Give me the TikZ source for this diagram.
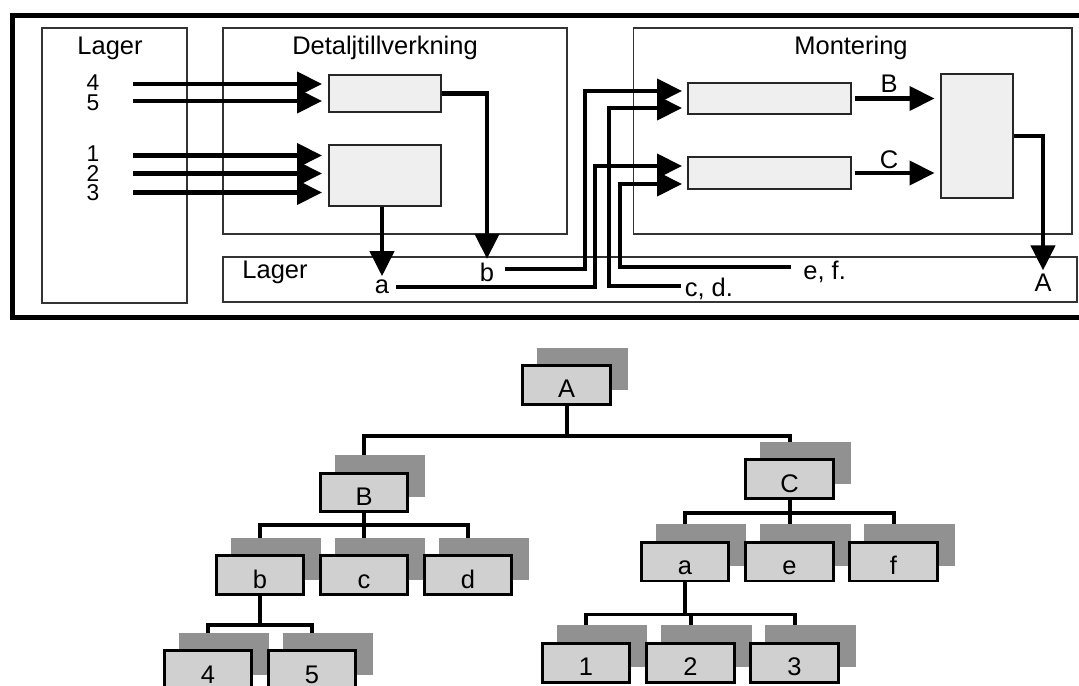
\documentclass[tikz,border=0pt]{standalone}
\usepackage{fontspec}
\setmainfont{Liberation Sans}
\usetikzlibrary{arrows.meta,positioning,calc,fit,shadows}
\definecolor{boxfill}{RGB}{239,239,239}
\definecolor{partfill}{RGB}{208,208,208}
\definecolor{partshade}{RGB}{145,145,145}
\tikzset{
  area/.style={draw=black!80, line width=0.03cm, inner sep=0pt},
  stn/.style={draw=black!85, line width=0.04cm, fill=boxfill, inner sep=0pt},
  lbl/.style={font=\fontsize{14.5}{17}\selectfont, inner sep=2pt},
  num/.style={font=\fontsize{13}{11.1}\selectfont, inner sep=0pt, align=center},
  flow/.style={-{Triangle[length=0.5cm,width=0.48cm]}, line width=0.085cm},
  part/.style={draw, line width=0.06cm, fill=partfill, minimum width=1.76cm,
               minimum height=0.78cm, inner sep=0pt, font=\fontsize{14.5}{17}\selectfont,
               text height=0.52cm, text depth=0pt,
               general shadow={fill=partshade, draw=partshade, line width=0.06cm,
                               shadow xshift=0.32cm, shadow yshift=0.33cm}},
  tree/.style={line width=0.08cm},
}

\begin{document}
\begin{tikzpicture}[x=0.02cm, y=-0.02cm]
\useasboundingbox (0,0) rectangle (1079,686);

% ===================== flow picture ======================================
\draw[line width=0.1cm] (1079,15.8) -| (12.5,317.5) -- (1079,317.5);

\node[area, fit={(42,28) (187,303)}] (lagerL) {};
\node[area, fit={(223,28) (567,234)}] (detalj) {};
\node[area, fit={(633.5,28) (1072,234)}] (montering) {};
\node[area, fit={(223,257) (1077,302)}] (lagerB) {};

\node[lbl] (tLagerL) at (110,48) {Lager};
\node[lbl] (tDetalj) at (385,48) {Detaljtillverkning};
\node[lbl] (tMont) at (851,48) {Montering};
\node[lbl] (tLagerB) at (275,272) {Lager};

% ---- stations ----
\node[stn, fit={(329,75) (441,112)}] (partD45) {};
\node[stn, fit={(329,145) (441,206)}] (partD123) {};
\node[stn, fit={(688,83) (851,114)}] (asmB) {};
\node[stn, fit={(688,157) (851,189)}] (asmC) {};
\node[stn, fit={(940.5,74) (1013,198)}] (asmA) {};

% ---- raw material in ----
\node[num] (d45) at (93,93) {4\\5};
\node[num] (d123) at (93,173.5) {1\\2\\3};
\foreach \dy in {-9,8}
  \draw[flow, shorten >=0.12cm] ($(d45.center)+(40,\dy)$) -- ($(d45.center -| partD45.west)+(0,\dy)$);
\foreach \dy in {-18,0,19}
  \draw[flow, shorten >=0.12cm] ($(d123.center)+(40,\dy)$) -- ($(d123.center -| partD123.west)+(0,\dy)$);

% ---- labels in the lower store ----
\node[lbl] (la) at (382,287) {a};
\node[lbl] (lb) at (487,272) {b};
\node[lbl] (lA) at (1043,283) {A};
\node[lbl] (lB) at (889,84) {B};
\node[lbl] (lC) at (889,160) {C};

\draw[flow] (partD45.east) -| (lb.north);
\draw[flow] (partD123.south -| la.north) -- (la.north);
\draw[flow] (asmA.east) -| (lA.north);
\draw[flow, shorten >=0.1cm] ([xshift=0.05cm]asmB.east) -- (asmB.east -| asmA.west);
\draw[flow, shorten >=0.1cm] ([xshift=0.05cm]asmC.east) -- (asmC.east -| asmA.west);

% ---- store to assembly ----
\coordinate (srcb) at (505,269);
\coordinate (srca) at (396,287);
\coordinate (srccd) at (681,286);
\coordinate (srcef) at (791,267);
\coordinate (inB1) at ($(asmB.west)+(-5,-7.5)$);
\coordinate (inB2) at ($(asmB.west)+(-5,9.5)$);
\coordinate (inC1) at ($(asmC.west)+(-5,-7)$);
\coordinate (inC2) at ($(asmC.west)+(-5,11)$);

\node[lbl, anchor=west] (lcd) at (681,289) {c, d.};
\node[lbl, anchor=west] (lef) at (799.5,272) {e, f.};

\draw[flow] (srcb) -| ($(inB1)+(-97,0)$) -- (inB1);
\draw[flow] (srca) -| ($(inC1)+(-87,0)$) -- (inC1);
\draw[flow] (srccd) -| ($(inB2)+(-73,0)$) -- (inB2);
\draw[flow] (srcef) -| ($(inC2)+(-62,0)$) -- (inC2);

% ===================== product tree ======================================
\node[part] (tA) at (566.5,385) {A};
\node[part] (tB) at (364,492.5) {B};
\node[part] (tC) at (789.5,479) {C};
\node[part] (tb) at (260,575) {b};
\node[part] (tc) at (364,575) {c};
\node[part] (td) at (468,575) {d};
\node[part] (ta) at (685,561.5) {a};
\node[part] (te) at (789.5,561.5) {e};
\node[part] (tf) at (893.5,561.5) {f};
\node[part] (t4) at (208,670) {4};
\node[part] (t5) at (312,670) {5};
\node[part] (t1) at (586,662.5) {1};
\node[part] (t2) at (690.5,662.5) {2};
\node[part] (t3) at (794.5,662.5) {3};

\foreach \k in {tB,tC}
  \draw[tree] (tA.south) -- ++(0,30) -| ([yshift=0.33cm]\k.north);
\foreach \k in {tb,tc,td}
  \draw[tree] (tB.south) -- ++(0,12) -| ([yshift=0.33cm]\k.north);
\foreach \k in {ta,te,tf}
  \draw[tree] (tC.south) -- ++(0,13.5) -| ([yshift=0.33cm]\k.north);
\foreach \k in {t4,t5}
  \draw[tree] (tb.south) -- ++(0,29) -| ([yshift=0.33cm]\k.north);
\foreach \k in {t1,t2,t3}
  \draw[tree] (ta.south) -- ++(0,32) -| ([yshift=0.33cm]\k.north);

\end{tikzpicture}
\end{document}
